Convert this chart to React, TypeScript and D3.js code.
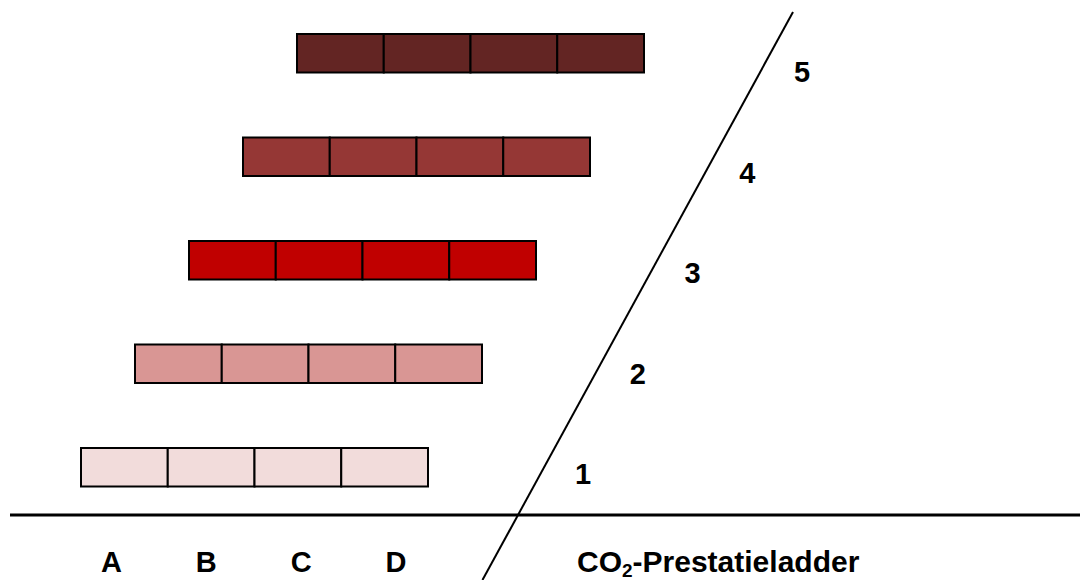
import React from "react";
import * as d3 from "d3";

// ---- data ----
const levels: number[] = [1, 2, 3, 4, 5];
const columns: string[] = ["A", "B", "C", "D"];
const levelColors: string[] = ["#F2DCDB", "#D99694", "#C00000", "#953735", "#632523"];
const titleMain = "CO";
const titleSub = "2";
const titleRest = "-Prestatieladder";

const W = 1080;
const H = 580;

export default function App() {
  // layout scales
  const barX = d3.scaleLinear().domain([1, 5]).range([81, 297]);
  const barY = d3.scaleLinear().domain([1, 5]).range([448, 34]);
  const barW = 347;
  const barH = 38.5;
  const cellX = d3.scaleBand<string>().domain(columns).range([0, barW]);

  const labelX = d3.scaleLinear().domain([1, 5]).range([583, 802]);
  const labelY = d3.scaleLinear().domain([1, 5]).range([484, 82]);

  const colX = d3.scalePoint<string>().domain(columns).range([111.5, 396]);

  const color = d3.scaleOrdinal<number, string>().domain(levels).range(levelColors);

  // diagonal line: passes (518,515) and (793,12)
  const diag = d3.scaleLinear().domain([515, 12]).range([518, 793]);
  const lineGen = d3.line<number>().x((y) => diag(y)).y((y) => y);

  const font = "'Liberation Sans', Arial, sans-serif";
  const fs = 29;

  return (
    <svg
      width={W}
      height={H}
      style={{ position: "absolute", left: 0, top: 0, display: "block", background: "#fff" }}
    >
      {levels.map((lv) => (
        <g key={lv} transform={`translate(${barX(lv)},${barY(lv)})`}>
          {columns.map((c) => (
            <rect
              key={c}
              x={cellX(c)}
              y={0}
              width={cellX.bandwidth()}
              height={barH}
              fill={color(lv)}
              stroke="#000"
              strokeWidth={2}
            />
          ))}
        </g>
      ))}

      <line x1={10} x2={W} y1={515} y2={515} stroke="#000" strokeWidth={3} />
      <path d={lineGen([H, 12]) || ""} stroke="#000" strokeWidth={2} fill="none" />

      {levels.map((lv) => (
        <text
          key={lv}
          x={labelX(lv)}
          y={labelY(lv)}
          textAnchor="middle"
          fontFamily={font}
          fontWeight="bold"
          fontSize={fs}
          fill="#000"
        >
          {lv}
        </text>
      ))}

      {columns.map((c) => (
        <text
          key={c}
          x={colX(c)}
          y={572}
          textAnchor="middle"
          fontFamily={font}
          fontWeight="bold"
          fontSize={fs}
          fill="#000"
        >
          {c}
        </text>
      ))}

      <text x={577} y={572} fontFamily={font} fontWeight="bold" fontSize={30} fill="#000">
        {titleMain}
        <tspan fontSize={19} dy={5}>
          {titleSub}
        </tspan>
        <tspan dy={-5}>{titleRest}</tspan>
      </text>
    </svg>
  );
}
